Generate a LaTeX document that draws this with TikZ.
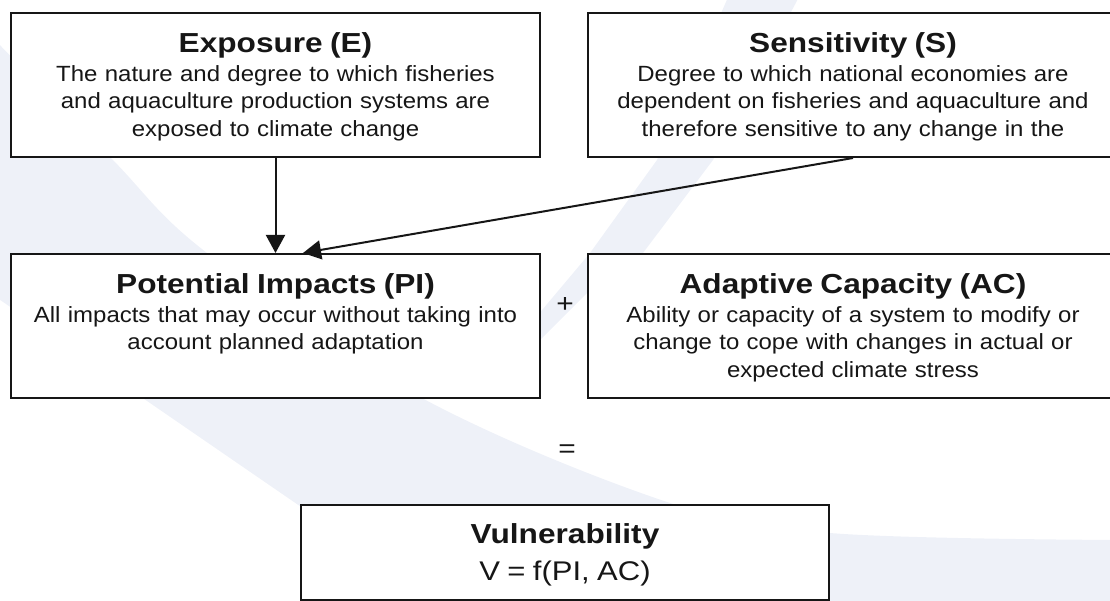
\documentclass[tikz,border=0pt]{standalone}
\usepackage{fontspec}
\setmainfont[FakeStretch=1.09]{Liberation Sans}
\newfontfamily\headfont[FakeStretch=1.15]{Liberation Sans}
\usetikzlibrary{arrows.meta}
\definecolor{ink}{HTML}{161616}
\definecolor{wmark}{HTML}{EEF1F8}

\begin{document}
\begin{tikzpicture}[x=1pt, y=-1pt,
      box/.style = {draw=ink, fill=white, line width=2pt, anchor=north west, inner sep=0pt},
      txt/.style = {anchor=base, text width=520pt, align=center, inner sep=0pt, text=ink,
                    font=\fontsize{22}{27.5}\selectfont},
      arr/.style = {-{Triangle[length=18pt, width=19pt]}, line width=2pt, draw=ink},
      sym/.style = {text=ink, font=\headfont\fontsize{26}{26}\selectfont, inner sep=0pt}]
    \useasboundingbox (0,0) rectangle (1110,601);
    \clip (0,0) rectangle (1110,601);
    \fill[wmark] plot[smooth, tension=0.6] coordinates {(-10,35) (110,157) (207,253) (420,397)
      (670,503) (830,533) (1120,540)} -- (1120,610) -- (451,610) -- (-10,293) -- cycle;
    \fill[wmark] (729,-5) -- (800,-5) -- (713,160) -- (643,253) -- (590,290) -- (540,340)
      -- (500,360) -- (590,253) -- (657,160) -- cycle;

    \node[box, minimum width=529pt, minimum height=144pt] (expo) at (10,12) {};
    \node[box, minimum width=530pt, minimum height=144pt] (sens) at (587,12) {};
    \node[box, minimum width=529pt, minimum height=144pt] (pi) at (10,253) {};
    \node[box, minimum width=530pt, minimum height=144pt] (adap) at (587,253) {};
    \node[box, minimum width=528pt, minimum height=95pt] (vuln) at (300,504) {};

    \node[txt] (expotext) at ([yshift=-40.5pt]expo.north) {{\headfont\bfseries\fontsize{27.5}{27.5}\selectfont Exposure (E)}\\[1.5pt]
      The nature and degree to which fisheries\\
      and aquaculture production systems are\\
      exposed to climate change};
    \node[txt] (senstext) at ([yshift=-40.5pt]sens.north) {{\headfont\bfseries\fontsize{27.5}{27.5}\selectfont Sensitivity (S)}\\[1.5pt]
      Degree to which national economies are\\
      dependent on fisheries and aquaculture and\\
      therefore sensitive to any change in the};
    \node[txt] (pitext) at ([yshift=-40.5pt]pi.north) {{\headfont\bfseries\fontsize{27.5}{27.5}\selectfont Potential Impacts (PI)}\\[1.5pt]
      All impacts that may occur without taking into\\
      account planned adaptation};
    \node[txt] (adaptext) at ([yshift=-40.5pt]adap.north) {{\headfont\bfseries\fontsize{27.5}{27.5}\selectfont Adaptive Capacity (AC)}\\[1.5pt]
      Ability or capacity of a system to modify or\\
      change to cope with changes in actual or\\
      expected climate stress};
    \node[txt] (vulntext) at ([yshift=-39.5pt]vuln.north) {{\headfont\bfseries\fontsize{27.5}{27.5}\selectfont Vulnerability}\\[9.5pt]
      {\headfont\fontsize{27}{27}\selectfont V = f(PI, AC)}};

    \node[sym] (plus) at (565,305) {+};
    \node[sym] (equals) at (567,451) {=};

    \draw[arr] (expo) -- (pi);
    \draw[arr] (sens.south) -- ([xshift=27.5pt]pi.north);
\end{tikzpicture}
\end{document}
